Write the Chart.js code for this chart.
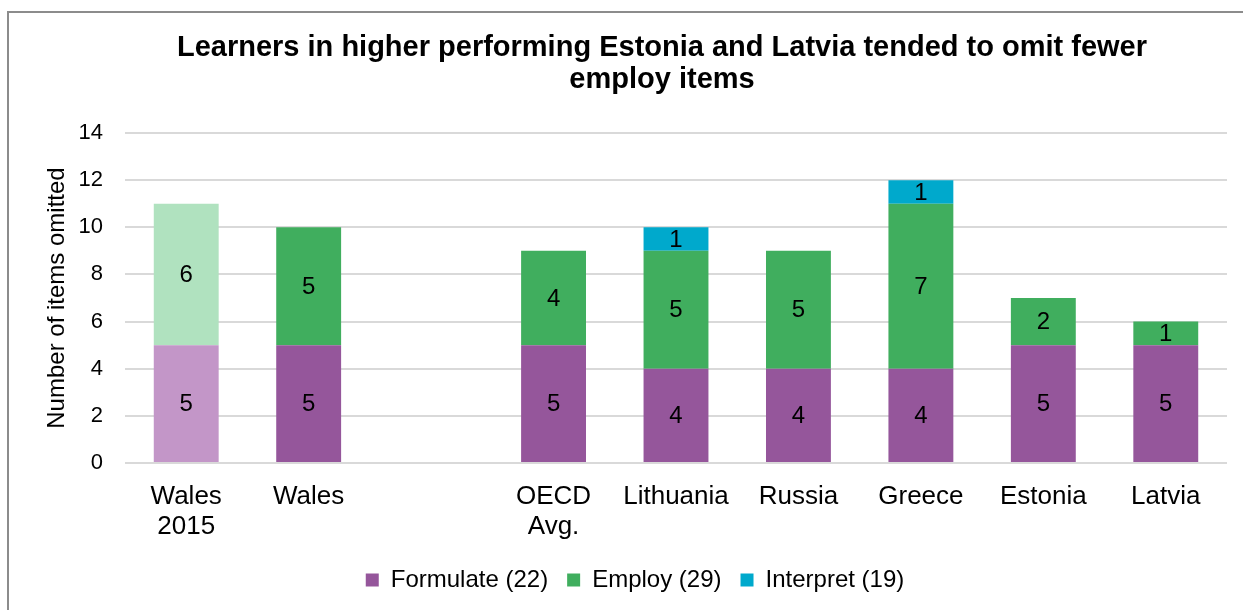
<!DOCTYPE html>
<html>
<head>
<meta charset="utf-8">
<script src="https://cdn.jsdelivr.net/npm/chart.js@4.4.1/dist/chart.umd.min.js"></script>
<style>
    html, body { margin: 0; padding: 0; background: #fff; }
    #wrap { position: relative; width: 1243px; height: 610px; overflow: hidden; }
    #frame {
        position: absolute; left: 7px; top: 11px; width: 1300px; height: 700px;
        border-left: 2px solid #8c8c8c; border-top: 2px solid #8c8c8c;
        box-sizing: border-box; pointer-events: none;
    }
    canvas { position: absolute; left: 0; top: 0; }
</style>
</head>
<body>
<div id="wrap">
    <canvas id="omitChart" width="1243" height="610"></canvas>
    <div id="frame"></div>
</div>
<script>
// Nhãn trục x (ô trống tạo khoảng cách giữa Wales và nhóm so sánh)
const categories = [['Wales', '2015'], 'Wales', '', ['OECD', 'Avg.'], 'Lithuania', 'Russia', 'Greece', 'Estonia', 'Latvia'];

// Số câu bỏ trống theo từng nhóm
const formulate = [5, 5, null, 5, 4, 4, 4, 5, 5];
const employ    = [6, 5, null, 4, 5, 5, 7, 2, 1];
const interpret = [null, null, null, null, 1, null, 1, null, null];

const seriesNames = ['Formulate (22)', 'Employ (29)', 'Interpret (19)'];
const yTicks = [0, 2, 4, 6, 8, 10, 12, 14];
const titleLines = ['Learners in higher performing Estonia and Latvia tended to omit fewer', 'employ items'];

const FONT = '"Liberation Sans", Arial, sans-serif';
const PURPLE = '#95569b', PURPLE_LIGHT = '#c396c8';
const GREEN = '#40ae5e', GREEN_LIGHT = '#b0e2bf';
const BLUE = '#00a9cc';

// Cột Wales 2015 dùng màu nhạt
const shade = (base, light) => categories.map((c, i) => i === 0 ? light : base);

// Plugin vẽ số ở giữa mỗi đoạn cột
const segmentLabels = {
    id: 'segmentLabels',
    afterDatasetsDraw(chart) {
        const ctx = chart.ctx;
        ctx.save();
        ctx.font = '24px ' + FONT;
        ctx.fillStyle = '#000';
        ctx.textAlign = 'center';
        ctx.textBaseline = 'middle';
        chart.data.datasets.forEach((ds, di) => {
            const meta = chart.getDatasetMeta(di);
            meta.data.forEach((bar, i) => {
                const v = ds.data[i];
                if (v == null) return;
                ctx.fillText(String(v), bar.x, (bar.y + bar.base) / 2 + 1);
            });
        });
        ctx.restore();
    }
};

// Tiêu đề hai dòng, căn giữa hơi lệch phải như khung biểu đồ gốc
const chartHeading = {
    id: 'chartHeading',
    afterDraw(chart) {
        const ctx = chart.ctx;
        ctx.save();
        ctx.font = 'bold 29px ' + FONT;
        ctx.fillStyle = '#000';
        ctx.textAlign = 'center';
        ctx.textBaseline = 'middle';
        const cx = 662;
        titleLines.forEach((line, i) => ctx.fillText(line, cx, 48 + i * 32));
        ctx.restore();
    }
};

const ctx = document.getElementById('omitChart').getContext('2d');
new Chart(ctx, {
    type: 'bar',
    data: {
        labels: categories,
        datasets: [
            { label: seriesNames[0], data: formulate, backgroundColor: shade(PURPLE, PURPLE_LIGHT), legendColor: PURPLE },
            { label: seriesNames[1], data: employ, backgroundColor: shade(GREEN, GREEN_LIGHT), legendColor: GREEN },
            { label: seriesNames[2], data: interpret, backgroundColor: BLUE, legendColor: BLUE }
        ]
    },
    options: {
        responsive: false,
        animation: false,
        layout: { padding: { left: 43, right: 16, top: 133, bottom: 8 } },
        datasets: { bar: { barPercentage: 0.53, categoryPercentage: 1.0 } },
        scales: {
            x: {
                stacked: true,
                grid: { display: false, drawTicks: false },
                border: { display: false },
                ticks: { color: '#000', font: { family: FONT, size: 26, lineHeight: 1.15 }, maxRotation: 0, autoSkip: false, padding: 19 },
                afterFit: scale => { scale.height = 86; }
            },
            y: {
                stacked: true,
                min: 0,
                max: 14,
                afterBuildTicks: scale => { scale.ticks = yTicks.map(v => ({ value: v })); },
                grid: { color: '#d9d9d9', lineWidth: 2, drawTicks: false },
                border: { display: false },
                ticks: { color: '#000', font: { family: FONT, size: 22 }, padding: 22 },
                title: { display: true, text: 'Number of items omitted', color: '#000', font: { family: FONT, size: 24 }, padding: 0 },
                afterFit: scale => { scale.width = 82; }
            }
        },
        plugins: {
            title: { display: false },
            legend: {
                position: 'bottom',
                labels: {
                    color: '#000',
                    font: { family: FONT, size: 24 },
                    boxWidth: 13,
                    boxHeight: 13,
                    padding: 19,
                    generateLabels: chart => chart.data.datasets.map((ds, i) => ({
                        text: ds.label,
                        fillStyle: ds.legendColor,
                        strokeStyle: ds.legendColor,
                        lineWidth: 0,
                        hidden: false,
                        datasetIndex: i
                    }))
                }
            },
            tooltip: { enabled: false }
        }
    },
    plugins: [segmentLabels, chartHeading]
});
</script>
</body>
</html>
